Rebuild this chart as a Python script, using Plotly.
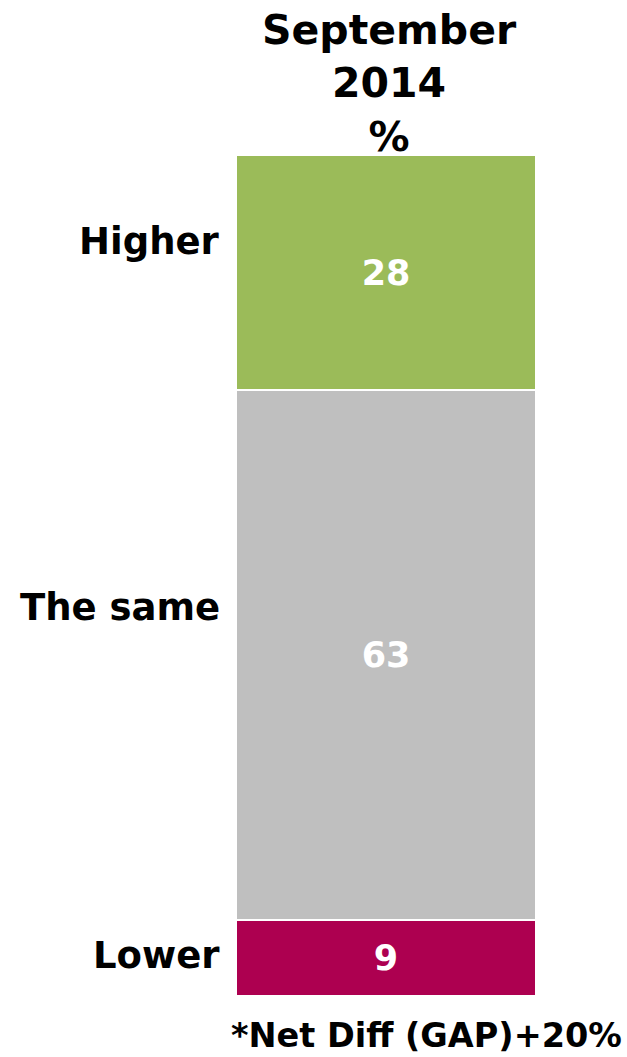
import plotly.graph_objects as go

categories = ["Higher", "The same", "Lower"]
values = [28, 63, 9]
colors = ["#9BBB59", "#BFBFBF", "#AD0050"]
column_label = "September<br>2014<br>%"
footnote = "*Net Diff (GAP)+20%"
label_yshift = [31, 48, 3]

FONT = "DejaVu Sans"

fig = go.Figure()
for cat, val, col in zip(categories, values, colors):
    fig.add_trace(go.Bar(
        x=[0], y=[val], name=cat,
        marker=dict(color=col, line=dict(color="white", width=2)),
        width=1,
        text=[str(val)], textposition="inside", insidetextanchor="middle",
        textfont=dict(family=FONT, size=35, color="white", weight="bold"),
        textangle=0, cliponaxis=False,
    ))

annotations = []
base = 0
for cat, val, ys in zip(categories, values, label_yshift):
    mid = base + val / 2
    base += val
    annotations.append(dict(
        x=0, xref="paper", y=mid, yref="y", xanchor="right", yanchor="middle",
        xshift=-14, yshift=ys, text="<b>%s</b>" % cat, showarrow=False,
        font=dict(family=FONT, size=37, color="black"),
    ))

annotations.append(dict(
    x=0.5, xref="paper", y=1, yref="paper", xanchor="center", yanchor="bottom",
    xshift=3, yshift=-8, text="<b>%s</b>" % column_label, showarrow=False,
    font=dict(family=FONT, size=41, color="black"),
))
annotations.append(dict(
    x=1, xref="paper", y=0, yref="paper", xanchor="right", yanchor="top",
    xshift=87, yshift=-19, text="<b>%s</b>" % footnote, showarrow=False,
    font=dict(family=FONT, size=33.5, color="black"),
    borderpad=0,
))

fig.update_layout(
    barmode="stack",
    width=627, height=1057,
    margin=dict(l=236, r=91, t=155, b=61),
    paper_bgcolor="white", plot_bgcolor="white",
    showlegend=False,
    bargap=0,
    xaxis=dict(range=[-0.5, 0.5], visible=False, fixedrange=True),
    yaxis=dict(range=[100, 0], visible=False, fixedrange=True),
    annotations=annotations,
)

fig.write_html("out.html")
